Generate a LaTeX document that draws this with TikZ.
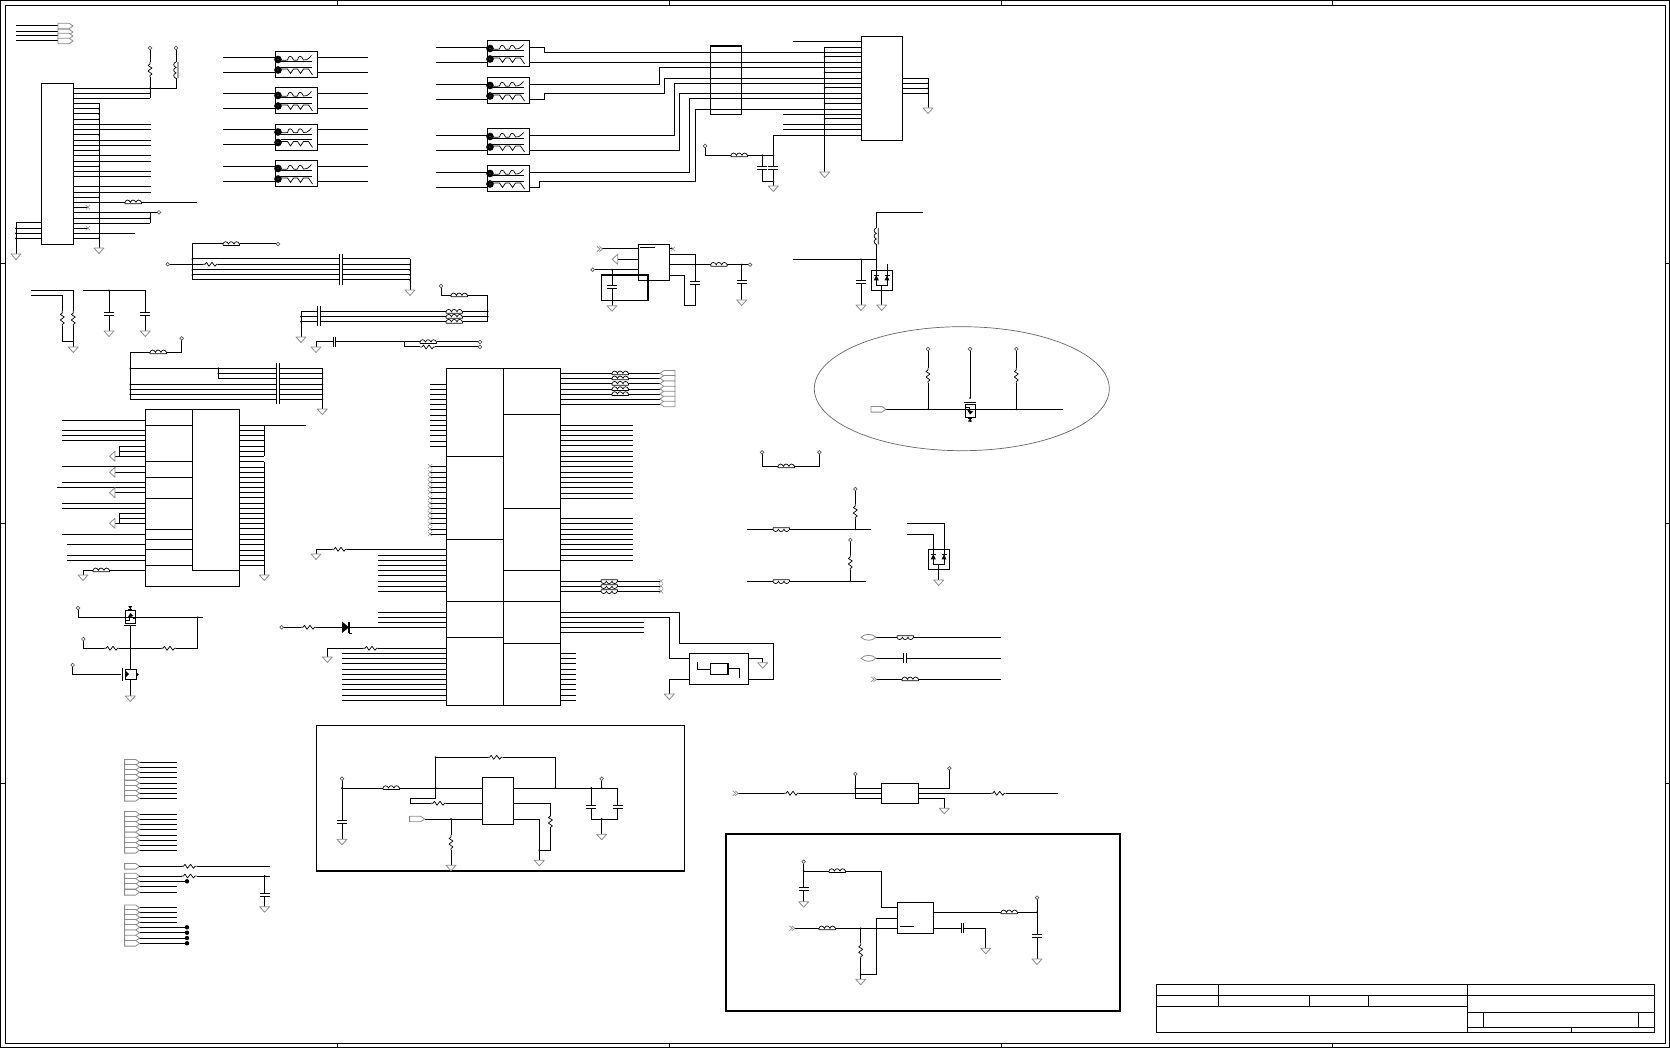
\documentclass[tikz,border=0pt]{standalone}
\usepackage{tikz}
\usetikzlibrary{positioning,shapes.geometric}

\definecolor{portgray}{gray}{0.55}
\tikzset{
	icbox/.style={draw,inner sep=0pt,outer sep=0pt},
	gnd/.pic={\draw[portgray,line width=.8pt,fill=white,line join=round] (-5,0)--(5,0)--(0,5.5)--cycle;},
	gndl/.pic={\draw[portgray,line width=.8pt,fill=white,line join=round] (0,-5)--(0,5)--(-5.5,0)--cycle;},
	resh/.pic={\fill[white] (0,-1) rectangle (15,1);
		\draw[line width=.7pt,line join=round] (0,0)--(2,0)--(3.5,-2)--(6,2)--(9,-2)--(12,2)--(13.5,0)--(15,0);},
	resv/.pic={\fill[white] (-1,0) rectangle (1,15);
		\draw[line width=.7pt,line join=round] (0,0)--(0,2)--(-2,3.5)--(2,6)--(-2,9)--(2,12)--(0,13.5)--(0,15);},
	indh/.pic={\fill[white] (0,-1) rectangle (16.5,1);
		\draw[line width=.7pt] (0,1.5)--(16.5,1.5) (0,1.5)--(0,0) .. controls (1,-3) and (4,-3) .. (5.5,0) .. controls (6.5,-3) and (9.5,-3) .. (11,0) .. controls (12,-3) and (15,-3) .. (16.5,0)--(16.5,1.5);},
	indd/.pic={\fill[white] (0,-1) rectangle (16.5,1);
		\draw[line width=.7pt] (0,-1.5)--(16.5,-1.5) (0,-1.5)--(0,0) .. controls (1,3) and (4,3) .. (5.5,0) .. controls (6.5,3) and (9.5,3) .. (11,0) .. controls (12,3) and (15,3) .. (16.5,0)--(16.5,-1.5);},
	indv/.pic={\fill[white] (-1,0) rectangle (1,16.5);
		\draw[line width=.7pt] (2,0)--(2,16.5) (0,0) .. controls (-3,1) and (-3,4) .. (0,5.5) .. controls (-3,6.5) and (-3,9.5) .. (0,11) .. controls (-3,12) and (-3,15) .. (0,16.5);},
	capv/.pic={\fill[white] (-1,-1.5) rectangle (1,1.5); \draw (-5,-1.5)--(5,-1.5) (-5,1.5)--(5,1.5);},
	caph/.pic={\fill[white] (-1.2,-1) rectangle (1.2,1); \draw[line width=.8pt] (-1.2,-5)--(-1.2,5) (1.2,-5)--(1.2,5);},
	via/.pic={\draw[line width=.7pt,fill=white,draw=black!65] (0,0) circle (1.8);},
	jn/.pic={\fill (0,0) circle (1);},
	xm/.pic={\draw[portgray,line width=.6pt] (-2.2,-2.2)--(2.2,2.2) (-2.2,2.2)--(2.2,-2.2);},
	portr/.pic={\draw[portgray,line width=.8pt,fill=white] (0,-2.8)--(11,-2.8)--(15,0)--(11,2.8)--(0,2.8)--cycle;},
	portl/.pic={\draw[portgray,line width=.8pt,fill=white] (0,0)--(4,-2.8)--(15,-2.8)--(15,2.8)--(4,2.8)--cycle;},
	lens/.pic={\draw[portgray,line width=.8pt,fill=white] (0,0) .. controls (4,-4) and (11,-4) .. (15,0) .. controls (11,4) and (4,4) .. (0,0)--cycle;},
	dbl/.pic={\draw[portgray,line width=.7pt] (0,-2.5)--(3,0)--(0,2.5) (2.5,-2.5)--(5.5,0)--(2.5,2.5);},
	choke/.pic={\draw (0,0) rectangle (42,26);
		\draw[line width=3pt] (2.5,7.5) circle (2.2) (2.5,18) circle (2.2);
		\draw (5,10)--(36,10) (5,15.5)--(36,15.5);
		\draw[line width=.7pt] (5,8) .. controls (8,8.5) and (10,8.5) .. (12,8) .. controls (13,3) and (16,3) .. (18,8) .. controls (19,8.5) and (21,8.5) .. (22,8) .. controls (23,3) and (26,3) .. (28,8) .. controls (30,8.5) and (32,8) .. (36,3.5);
		\draw[line width=.7pt] (5,17) .. controls (8,17) and (10,17) .. (12,17)--(15,21.5)--(18,17)--(22,17)--(25,21.5)--(28,17)--(33,17)--(37,23);},
	zenr/.pic={\draw (0,0) rectangle (21.4,20);
		\draw (5,0)--(5,15.3)--(15.7,15.3)--(15.7,0) (10.4,15.3)--(10.4,20);
		\fill (2.5,10)--(7.5,10)--(5,5)--cycle (13.2,10)--(18.2,10)--(15.7,5)--cycle;
		\draw[line width=.7pt] (2.5,5)--(7.5,5) (13.2,5)--(18.2,5);},
	fett/.pic={\draw (-5,-7) rectangle (5,6); \draw (-6,8.5)--(6,8.5);
		\fill (-3,1)--(3,-1)--(0,-4)--cycle; \draw[line width=.7pt] (-5,3)--(-1,3)--(-1,-2) (3,1)--(5,1);
		\fill (-2,-11)--(2,-11)--(0,-8)--cycle; \draw (-2,-8)--(2,-8) (0,-11)--(0,-7);}
}
\newcommand{\blk}[5]{\node[icbox,minimum width={(#4-#2)*1pt},minimum height={(#5-#3)*1pt}] (#1) at ({(#2+#4)/2},{(#3+#5)/2}) {};}
\newcommand{\putp}[2]{\foreach \px/\py in {#2} {\pic at (\px,\py) {#1};}}

\begin{document}
\begin{tikzpicture}[x=1pt,y=-1pt,line width=1pt]
	\useasboundingbox (0,0) rectangle (1670,1048);
	% sheet frame
	\draw (.6,.6) rectangle (1669.4,1047.4);
	\draw (5.5,5.5) rectangle (1665,1043);
	\foreach \x in {337,669,1001,1332}
	{
		\draw (\x,.6)--(\x,5.5);
		\draw (\x,1043)--(\x,1047.4);
	}
	\foreach \y in {264,523,783}
	{
		\draw (.6,\y)--(5.5,\y);
		\draw (1665,\y)--(1669.4,\y);
	}
	% title block
	\node[icbox,minimum width=498pt,minimum height=47.5pt] (title) at (1405,1008.7) {};
	\draw (1156,995.5)--(1654,995.5) (1156,1006)--(1467,1006);
	\draw (1218,985)--(1218,1006) (1309,995.5)--(1309,1006) (1368.5,995.5)--(1368.5,1006);
	\draw (1467,985)--(1467,1032.5) (1467,1012)--(1654,1012) (1467,1027)--(1654,1027);
	\draw (1483,1012)--(1483,1027) (1638,1012)--(1638,1027) (1571,1027)--(1571,1032.5);

	% top left ports
	\foreach \y in {26,32,36,41}
	{
		\draw (16,\y)--(58,\y);
		\pic at (58,\y) {portr};
	}

	% connector J
	\blk{jconn}{41}{83.5}{73.5}{244.5}
	\foreach \y in {88.5,93.5,98.5}
		\draw (jconn.east |- 0,\y)--(150,\y);
	\foreach \y in {103.5,108.7,114,119.3,135,150.3,166.3,197.3,238.3}
		\draw (jconn.east |- 0,\y)--(99,\y);
	\foreach \y in {124.3,129.3,140.3,145.3,155.3,161.3,171.3,176.3,186.7,192.3}
		\draw (jconn.east |- 0,\y)--(151,\y);
	\draw (99,103.5)--(99,248);
	\draw (jconn.east |- 0,202.3)--(197,202.3);
	\draw (jconn.east |- 0,207.3)--(88,207.3) (jconn.east |- 0,228.3)--(88,228.3);
	\draw (jconn.east |- 0,212.3)--(159,212.3) (jconn.east |- 0,218.3)--(150,218.3) (jconn.east |- 0,223.3)--(150,223.3);
	\draw (150,212.3)--(150,223.3);
	\draw (jconn.east |- 0,233.3)--(135,233.3);
	\foreach \y in {223,228.5,233.5,238.5}
		\draw (16,\y)--(jconn.west |- 0,\y);
	\draw (16,223)--(16,254) (150,48)--(150,98.5) (176,48)--(176,88.5)--(150,88.5);
	\pic at (16,254) {gnd};
	\pic at (99,248) {gnd};
	\pic at (150,62) {resv};
	\pic at (176,62) {indv};
	\pic at (125,202.3) {indh};
	\putp{via}{150/48,176/48,159/212.3}
	\putp{xm}{88/207.3,88/228.3}
	\putp{jn}{99/108.7,99/114,99/119.3,99/135,99/150.3,99/166.3,99/197.3,99/238.3,150/88.5,150/93.5,150/218.3,16/228.5,16/233.5,16/238.5}

	% chokes, left column
	\foreach \y in {52,88,124.5,161}
	{
		\pic at (275.5,\y) {choke};
		\draw (223,\y+5.5)--(275.5,\y+5.5) (223,\y+20.5)--(275.5,\y+20.5);
		\draw (317.5,\y+5.5)--(368,\y+5.5) (317.5,\y+20.5)--(368,\y+20.5);
	}
	% chokes, right column
	\foreach \y in {41,78,129,166}
	{
		\pic at (487.5,\y) {choke};
		\draw (435.5,\y+6.3)--(487.5,\y+6.3) (435.5,\y+21.3)--(487.5,\y+21.3);
	}

	% switch and connector
	\blk{lanmid}{710.3}{46.3}{741.7}{114.7}
	\draw[line width=1.6pt] (lanmid.north west)--(lanmid.north east);
	\blk{lanconn}{861.3}{36.3}{902.7}{140.7}
	\draw (529.5,47.3)--(544.7,47.3)--(544.7,52.3)--(lanconn.west |- 0,52.3);
	\draw (529.5,62.3)--(lanconn.west |- 0,62.3);
	\draw (529.5,84.3)--(659,84.3)--(659,67.3)--(lanconn.west |- 0,67.3);
	\draw (529.5,99.3)--(544.7,99.3)--(544.7,93.3)--(664,93.3)--(664,78.3)--(lanconn.west |- 0,78.3);
	\draw (529.5,135.3)--(674.7,135.3)--(674.7,83.3)--(lanconn.west |- 0,83.3);
	\draw (529.5,150.3)--(679.7,150.3)--(679.7,93.3)--(lanconn.west |- 0,93.3);
	\draw (529.5,172.3)--(689.7,172.3)--(689.7,98.3)--(lanconn.west |- 0,98.3);
	\draw (529.5,187.3)--(539.7,187.3)--(539.7,181.3)--(695.7,181.3)--(695.7,109.3)--(lanconn.west |- 0,109.3);
	\draw (793,41.7)--(lanconn.west |- 0,41.7);
	\draw (824.7,47.3)--(lanconn.west |- 0,47.3) (824.7,47.3)--(824.7,172);
	\foreach \y in {57,72.3,88,103.7,119}
	{
		\draw (824.7,\y)--(lanconn.west |- 0,\y);
		\pic at (824.7,\y) {jn};
	}
	\foreach \y in {114.7,124.3,129.3}
		\draw (783,\y)--(lanconn.west |- 0,\y);
	\draw (lanconn.west |- 0,135.3)--(773.3,135.3)--(773.3,186);
	\foreach \y in {78.3,83.3,88.3,93.3}
		\draw (lanconn.east |- 0,\y)--(928,\y);
	\draw (928,78.3)--(928,108);
	\pic at (928,108) {gnd};
	\pic at (824.7,172) {gnd};
	\pic at (773.3,186) {gnd};
	\draw (705,146)--(705,155.3)--(773.3,155.3) (762.3,155.3)--(762.3,181.3)--(773.3,181.3);
	\pic at (731,155.3) {indh};
	\pic at (762.3,168.5) {capv};
	\pic at (773.3,168.5) {capv};
	\putp{via}{705/146}
	\putp{jn}{762.3/155.3,773.3/155.3,773.3/181.3,928/83.3,928/88.3,928/93.3}

	% decoupling rail one
	\draw (278,244)--(192.3,244)--(192.3,280);
	\pic at (223,244) {indh};
	\pic at (278,244) {via};
	\foreach \y in {259,270,275,280}
		\draw (192.3,\y)--(410,\y);
	\draw (167.7,264.3)--(410,264.3);
	\pic at (203,264.3) {resh};
	\pic at (167.7,264.3) {via};
	\fill[white] (339.5,252) rectangle (342,287);
	\draw (339.5,254)--(339.5,285) (342,254)--(342,285);
	\draw (410,259)--(410,290);
	\pic at (410,290) {gnd};
	\putp{jn}{192.3/259,192.3/270,192.3/275,410/264.3,410/270,410/275,410/280}

	% small parts under connector
	\draw (31,290.3)--(73.3,290.3)--(73.3,347);
	\draw (31,295.3)--(62.3,295.3)--(62.3,342)--(73.3,342);
	\pic at (62.3,311) {resv};
	\pic at (73.3,311) {resv};
	\pic at (73.3,347) {gnd};
	\draw (83,290.3)--(145.3,290.3);
	\foreach \x in {109,145.3}
	{
		\draw (\x,290.3)--(\x,331);
		\pic at (\x,314) {capv};
		\pic at (\x,331) {gnd};
	}
	\pic at (109,290.3) {jn};

	% decoupling rail two
	\draw (301,337)--(301,311.7);
	\foreach \y in {311.7,316.7,321.7}
	{
		\draw (301,\y)--(487.7,\y);
		\pic at (446,\y) {indh};
	}
	\fill[white] (317.7,304) rectangle (320.7,328);
	\draw (317.7,306)--(317.7,326) (320.7,306)--(320.7,326);
	\draw (441,286)--(441,295.3)--(487.7,295.3)--(487.7,321.7);
	\pic at (451,295.3) {indh};
	\pic at (441,286) {via};
	\pic at (301,337) {gnd};
	\putp{jn}{301/316.7,301/321.7,487.7/311.7,487.7/316.7}
	\draw (316,347)--(316,342)--(404.7,342) (404.7,342)--(480,342) (404.7,342)--(404.7,347)--(480,347);
	\pic at (316,347) {gnd};
	\pic at (334.5,342) {caph};
	\pic at (420,342) {indh};
	\pic at (420,347) {resh};
	\putp{via}{480/342,480/347}

	% decoupling rail three
	\draw (181.7,338.3)--(181.7,352.3)--(130.3,352.3)--(130.3,399.3);
	\pic at (150,352.3) {indh};
	\pic at (181.7,338.3) {via};
	\foreach \y in {368.3,384.3,389.3,394.3,399.3}
		\draw (130.3,\y)--(322.3,\y);
	\draw (322.3,373.3)--(218.3,373.3) (322.3,378.3)--(218.3,378.3) (218.3,368.3)--(218.3,378.3);
	\fill[white] (276.3,361) rectangle (279.3,406);
	\draw (276.3,363)--(276.3,404) (279.3,363)--(279.3,404);
	\draw (322.3,368.3)--(322.3,409);
	\pic at (322.3,409) {gnd};
	\putp{jn}{130.3/368.3,130.3/384.3,130.3/389.3,130.3/394.3,218.3/368.3,218.3/373.3,322.3/373.3,322.3/378.3,322.3/384.3,322.3/389.3,322.3/394.3,322.3/399.3}

	% left ic
	\blk{memic}{145.3}{409.3}{239.7}{586.7}
	\blk{memcore}{192.3}{409.3}{239.7}{570.3}
	\foreach \y in {425.3,461.3,477.3,498.3,529.3,539.3,549.3,565.3}
		\draw (memic.west |- 0,\y)--(memcore.west |- 0,\y);
	\foreach \y in {420.3,430.3,435.3,440.3,466.3,482.3,503.3,508.3,534.3}
		\draw (62,\y)--(memic.west |- 0,\y);
	\draw (57,487.3)--(memic.west |- 0,487.3);
	\foreach \y in {544.3,555.3,560.3}
		\draw (67,\y)--(memic.west |- 0,\y);
	\foreach \y in {446.7,451.7,513.3,518.7}
		\draw (119,\y)--(memic.west |- 0,\y);
	\foreach \y in {456.3,472.3,492.7,523.3}
	{
		\draw (115,\y)--(memic.west |- 0,\y);
		\pic at (115,\y) {gndl};
	}
	\draw (119,446.7)--(119,456.3) (119,513.3)--(119,523.3);
	\draw (memic.west |- 0,570.3)--(83,570.3)--(83,575);
	\pic at (93,570.3) {indh};
	\pic at (83,575) {gnd};
	\draw (memic.east |- 0,425.3)--(306,425.3);
	\foreach \y in {430.3,435.3,440.3,446,451,456.3}
		\draw (memic.east |- 0,\y)--(264.3,\y);
	\draw (264.3,425.3)--(264.3,456.3);
	\foreach \y in {461.7,467,472,477,482,487,492.3,497.7,503,508.3,513.3,518.3,523.3,528.7,534,539.3,544.7,550,555.3,560,565.3}
		\draw (memic.east |- 0,\y)--(264.3,\y);
	\draw (264.3,461.7)--(264.3,575);
	\pic at (264.3,575) {gnd};

	% power switch
	\draw (78,608)--(78,617.3)--(203,617.3) (197.7,617.3)--(197.7,648.3)--(83.3,648.3)--(83.3,639);
	\draw (130.3,625)--(130.3,696);
	\pic at (130.3,617) {fett};
	\pic at (104,648.3) {resh};
	\pic at (161,648.3) {resh};
	\draw (72.7,665)--(72.7,674.3)--(118,674.3);
	\draw (122,668)--(122,681) (118,674.3)--(121,674.3);
	\node[icbox,minimum width=11.4pt,minimum height=10.4pt,fill=white] (lowfet) at (131,674.5) {};
	\fill (126,671)--(126,677)--(129,674)--cycle (136,672)--(136,677)--(139,674.5)--cycle;
	\draw (130.3,680)--(130.3,696);
	\pic at (130.3,696) {gnd};
	\putp{via}{78/608,83.3/639,72.7/665}
	\putp{jn}{130.3/648.3,197.7/617.3}

	% main ic
	\blk{socleft}{446.3}{368.3}{503.7}{705.3}
	\blk{socright}{503.7}{368.3}{560.7}{705.3}
	\foreach \y in {456.7,539.7,601.3,637.3}
		\draw (socleft.west |- 0,\y)--(socleft.east |- 0,\y);
	\foreach \y in {414.3,508.3,570.3,601.3,643.3}
		\draw (socright.west |- 0,\y)--(socright.east |- 0,\y);
	\foreach \y in {384.3,389.3,394.3,399.3,404.3,409.3,415,420.3,425.3,430.7,435.7,441,446.3}
		\draw (430,\y)--(socleft.west |- 0,\y);
	\foreach \y in {466.3,472.3,477.3,482.3,487.3,492.3,498,503.3,508.3,513.3,518.3,523.7,529,534}
	{
		\draw (430,\y)--(socleft.west |- 0,\y);
		\pic at (430,\y) {xm};
	}
	\foreach \y in {555.3,560.3,565.3,570.3,575.3,581,586,591,612.3,617.3,622.3}
		\draw (378.3,\y)--(socleft.west |- 0,\y);
	\foreach \y in {653.3,658.3,663.3,669.3,674.3,679.3,684.3,689.3,695.3,700.3}
	{
		\draw (342,\y)--(socleft.west |- 0,\y);
		\draw (socright.east |- 0,\y)--(576,\y);
	}
	\draw (socleft.west |- 0,549.3)--(316,549.3)--(316,554);
	\pic at (332,549.3) {resh};
	\pic at (316,554) {gnd};
	\draw (socleft.west |- 0,648.3)--(327.3,648.3)--(327.3,657);
	\pic at (363,648.3) {resh};
	\pic at (327.3,657) {gnd};
	\draw (281.7,627.3)--(342,627.3) (349,627.3)--(socleft.west |- 0,627.3);
	\pic at (301,627.3) {resh};
	\pic at (281.7,627.3) {via};
	\fill (342,621.5)--(342,633)--(349,627.3)--cycle;
	\draw[line width=1.5pt] (349,621.5)--(349,633);
	\draw (349,633)--(351.5,633);

	\foreach \y in {373.3,378.3,383.7,389,394,399,404}
	{
		\draw (socright.east |- 0,\y)--(660,\y);
		\pic at (660,\y) {portl};
	}
	\foreach \y in {373.3,378.3,383.7,389,394}
		\pic at (612,\y) {indh};
	\foreach \y in {425.3,430.7,435.7,440.7,445.7,451,456,461,466.3,472,477,482.3,487.3,493,498.3}
		\draw (socright.east |- 0,\y)--(632.7,\y);
	\foreach \y in {518.3,523.3,529.3,534.3,539.3,544.3,549.3,555,560.3}
		\draw (socright.east |- 0,\y)--(632.7,\y);
	\foreach \y in {581.3,586.3,591.3}
	{
		\draw (socright.east |- 0,\y)--(660,\y);
		\pic at (601,\y) {indd};
		\pic at (661,\y) {xm};
	}

	% crystal
	\blk{xtal}{689.3}{653.3}{748}{684.7}
	\draw (socright.east |- 0,612.3)--(679,612.3)--(679,643.3)--(773,643.3)--(773,679.3)--(xtal.east |- 0,679.3);
	\draw (socright.east |- 0,617.3)--(669.3,617.3)--(669.3,658.3)--(xtal.west |- 0,658.3);
	\foreach \y in {622.3,627.3,632.3}
		\draw (socright.east |- 0,\y)--(643.7,\y);
	\draw (xtal.west |- 0,679.3)--(669.3,679.3)--(669.3,694);
	\pic at (669.3,694) {gnd};
	\draw (xtal.east |- 0,658.3)--(762.7,658.3)--(762.7,662.7);
	\pic at (762.7,662.7) {gnd};
	\draw (697,661.7)--(697,669.3)--(710,669.3) (710,663.3) rectangle (727,674.3);
	\draw (728.8,663)--(728.8,674.5) (729,668.3)--(739.7,668.3)--(739.7,677.7);

	% regulator
	\blk{regic}{638.3}{244.3}{669.7}{280.7}
	\draw (640,247.7)--(655,247.7);
	\draw (601.7,249)--(regic.west |- 0,249);
	\pic at (597,249) {dbl};
	\draw (617.7,259.3)--(regic.west |- 0,259.3);
	\pic at (617.7,259.3) {gndl};
	\draw (592.7,269.7)--(regic.west |- 0,269.7) (612,269.7)--(612,305.7);
	\pic at (592.7,269.7) {via};
	\pic at (612,269.7) {jn};
	\pic at (612,287.5) {capv};
	\pic at (612,305.7) {gnd};
	\draw (601.3,274.7) rectangle (648.3,300.3);
	\draw[line width=1.8pt] (601.3,274.7)--(648.3,274.7)--(648.3,300.3);
	\draw (regic.east |- 0,248.7)--(673,248.7);
	\pic at (673,248.7) {xm};
	\draw (regic.east |- 0,254.3)--(695.3,254.3)--(695.3,306)--(684.7,306)--(684.7,275.3)--(regic.east |- 0,275.3);
	\pic at (695.3,282.8) {capv};
	\draw (regic.east |- 0,264.7)--(750,264.7) (741.7,264.7)--(741.7,300);
	\pic at (710.7,264.7) {indh};
	\pic at (750,264.7) {via};
	\pic at (741.7,264.7) {jn};
	\pic at (741.7,282.5) {capv};
	\pic at (741.7,300) {gnd};

	% zener group one
	\draw (923,212.3)--(876.3,212.3)--(876.3,270.3);
	\pic at (876.3,228) {indv};
	\draw (793,259.3)--(876.3,259.3) (861,259.3)--(861,305);
	\pic at (861,282.5) {capv};
	\pic at (861,305) {gnd};
	\pic at (871.3,270.3) {zenr};
	\draw (887,264)--(887,270.3) (881.7,290.3)--(881.7,305);
	\pic at (881.7,305) {gnd};
	\putp{jn}{861/259.3,876.3/259.3}

	% ellipse group
	\node[icbox,draw=black!60,line width=.7pt,ellipse,minimum width=295pt,minimum height=124pt] (pullring) at (961.8,388.7) {};
	\draw (886,409.3)--(1063,409.3);
	\pic at (871,409.3) {portr};
	\draw (928,349)--(928,409.3) (970,349)--(970,398) (1016.3,349)--(1016.3,409.3);
	\pic at (928,368) {resv};
	\pic at (1016.3,368) {resv};
	\pic[yscale=-1] at (970,410.5) {fett};
	\putp{via}{928/349,970/349,1016.3/349}
	\putp{jn}{928/409.3,1016.3/409.3,970/398}

	% loose inductor
	\draw (762,452.3)--(762,466.3)--(819.3,466.3)--(819.3,452.3);
	\pic at (778,466.3) {indh};
	\putp{via}{762/452.3,819.3/452.3}
	\draw (746.7,529.3)--(871,529.3) (855.3,489)--(855.3,529.3);
	\draw (746.7,581.3)--(866,581.3) (850.3,540)--(850.3,581.3);
	\pic at (773,529.3) {indd};
	\pic at (773,581.3) {indd};
	\pic at (855.3,504) {resv};
	\pic at (850.3,555) {resv};
	\putp{via}{855.3/489,850.3/540}
	\putp{jn}{855.3/529.3,850.3/581.3}

	% zener group two
	\draw (907,523)--(944.3,523)--(944.3,549.3) (907,534.3)--(933.3,534.3)--(933.3,549.3);
	\pic at (928.3,549.3) {zenr};
	\draw (938.7,569.3)--(938.7,580);
	\pic at (938.7,580) {gnd};

	% three signal lines
	\draw (876,637.3)--(1001,637.3) (876,658.3)--(1001,658.3) (876,679.3)--(1001,679.3);
	\pic at (861,637.3) {lens};
	\pic at (861,658.3) {lens};
	\pic at (871,679.3) {dbl};
	\pic at (897,637.3) {indd};
	\pic at (905,658.3) {caph};
	\pic at (902,679.3) {indh};

	% bottom left ports
	\foreach \y in {762.3,767.3,772.3,777.3,783.3,788.3,793.3,798.3,814.3,819.3,824.3,829.3,835,840,845.3,850.3,886.3,892.3,907.7,912.3,917.3,922.3}
		\draw (139,\y)--(176.5,\y);
	\foreach \y in {881.3,927.3,932.7,938,943.3}
	{
		\draw (139,\y)--(180,\y);
		\fill (187,\y) circle (2.2);
		\draw (180,\y)--(187,\y);
	}
	\foreach \y in {762.3,767.3,772.3,777.3,783.3,788.3,793.3,798.3,814.3,819.3,824.3,829.3,835,840,845.3,850.3,866.3,876,881.3,886.3,892.3,907.7,912.3,917.3,922.3,927.3,932.7,938,943.3}
		\pic at (124.6,\y) {portr};
	\draw (139,866.3)--(269.5,866.3) (139,876)--(269.5,876) (264.6,876)--(264.6,906.7);
	\pic at (181.5,866.3) {resh};
	\pic at (181.5,876) {resh};
	\pic at (264.6,894.7) {capv};
	\pic at (264.6,876) {jn};
	\pic at (264.6,906.7) {gnd};

	% boxed regulator
	\draw (316,725.7) rectangle (684.8,871);
	\draw[line width=1.6pt] (316,871)--(684.8,871);
	\blk{ldoic}{482.3}{777.3}{513.7}{824.3}
	\draw (342,778.7)--(342,839.3) (342,788)--(ldoic.west |- 0,788);
	\pic at (383,788) {indh};
	\pic at (342,821.5) {capv};
	\pic at (342,839.3) {gnd};
	\draw (435.6,788)--(435.6,757.3)--(555.4,757.3)--(555.4,788);
	\pic at (487.7,757.3) {resh};
	\draw (435.6,788)--(435.6,798.3)--(410.4,798.3)--(410.4,803.3)--(ldoic.west |- 0,803.3);
	\pic at (431,803.3) {resh};
	\draw (424.5,819)--(ldoic.west |- 0,819) (451,819)--(451,865.3);
	\pic at (409.6,819) {portr};
	\pic at (451,835) {resv};
	\pic at (451,865.3) {gnd};
	\draw (ldoic.east |- 0,788)--(617.8,788);
	\draw (ldoic.east |- 0,803.3)--(550.4,803.3)--(550.4,850.3)--(539.3,850.3);
	\draw (ldoic.east |- 0,819)--(539.3,819)--(539.3,860.3);
	\pic at (550.4,814) {resv};
	\pic at (539.3,860.3) {gnd};
	\draw (591.4,788)--(591.4,819)--(617.8,819)--(617.8,788) (601.7,778.7)--(601.7,788) (601.7,819)--(601.7,834.3);
	\pic at (591.4,806.5) {capv};
	\pic at (617.8,806.5) {capv};
	\pic at (601.7,834.3) {gnd};
	\putp{via}{342/778.7,601.7/778.7}
	\putp{jn}{342/788,435.6/788,555.4/788,451/819,539.3/850.3,591.4/788,601.7/788,601.7/819,435.6/757.3}

	% buffer line
	\blk{bufic}{881.3}{783.3}{918.3}{803.3}
	\draw (738,793.3)--(bufic.west |- 0,793.3);
	\pic at (732.7,793.3) {dbl};
	\pic at (784,793.3) {resh};
	\draw (855.3,774)--(855.3,798.3)--(bufic.west |- 0,798.3) (855.3,788.3)--(bufic.west |- 0,788.3);
	\draw (bufic.east |- 0,788.3)--(949.3,788.3)--(949.3,768.3);
	\draw (bufic.east |- 0,793.3)--(1057.7,793.3);
	\pic at (990.7,793.3) {resh};
	\draw (bufic.east |- 0,798.3)--(944.3,798.3)--(944.3,808.3);
	\pic at (944.3,808.3) {gnd};
	\putp{via}{855.3/774,949.3/768.3}
	\pic at (855.3,788.3) {jn};

	% boxed amplifier
	\draw[line width=2pt] (726,834.3) rectangle (1120,1011);
	\blk{ampic}{897.3}{902.3}{933.3}{933.3}
	\draw (900,926)--(913.7,926);
	\draw (803.7,861.7)--(803.7,901.7) (803.7,871)--(881.3,871)--(881.3,907)--(ampic.west |- 0,907);
	\pic at (829,871) {indh};
	\pic at (803.7,889) {capv};
	\pic at (803.7,901.7) {gnd};
	\draw (794.5,928.3)--(ampic.west |- 0,928.3) (860.7,928.3)--(860.7,979.3);
	\pic at (789.3,928.3) {dbl};
	\pic at (819,928.3) {indh};
	\pic at (860.7,943.3) {resv};
	\pic at (860.7,979.3) {gnd};
	\draw (ampic.west |- 0,918.3)--(876.3,918.3)--(876.3,974.3)--(860.7,974.3);
	\draw (ampic.east |- 0,912.3)--(1037,912.3) (1037,897.7)--(1037,959);
	\pic at (1001,912.3) {indh};
	\pic at (1037,935.5) {capv};
	\pic at (1037,959) {gnd};
	\draw (ampic.east |- 0,928.3)--(985.7,928.3)--(985.7,948.3);
	\pic at (962.5,928.3) {caph};
	\pic at (985.7,948.3) {gnd};
	\putp{via}{803.7/861.7,1037/897.7}
	\putp{jn}{803.7/871,860.7/928.3,860.7/974.3,1037/912.3}
\end{tikzpicture}
\end{document}
